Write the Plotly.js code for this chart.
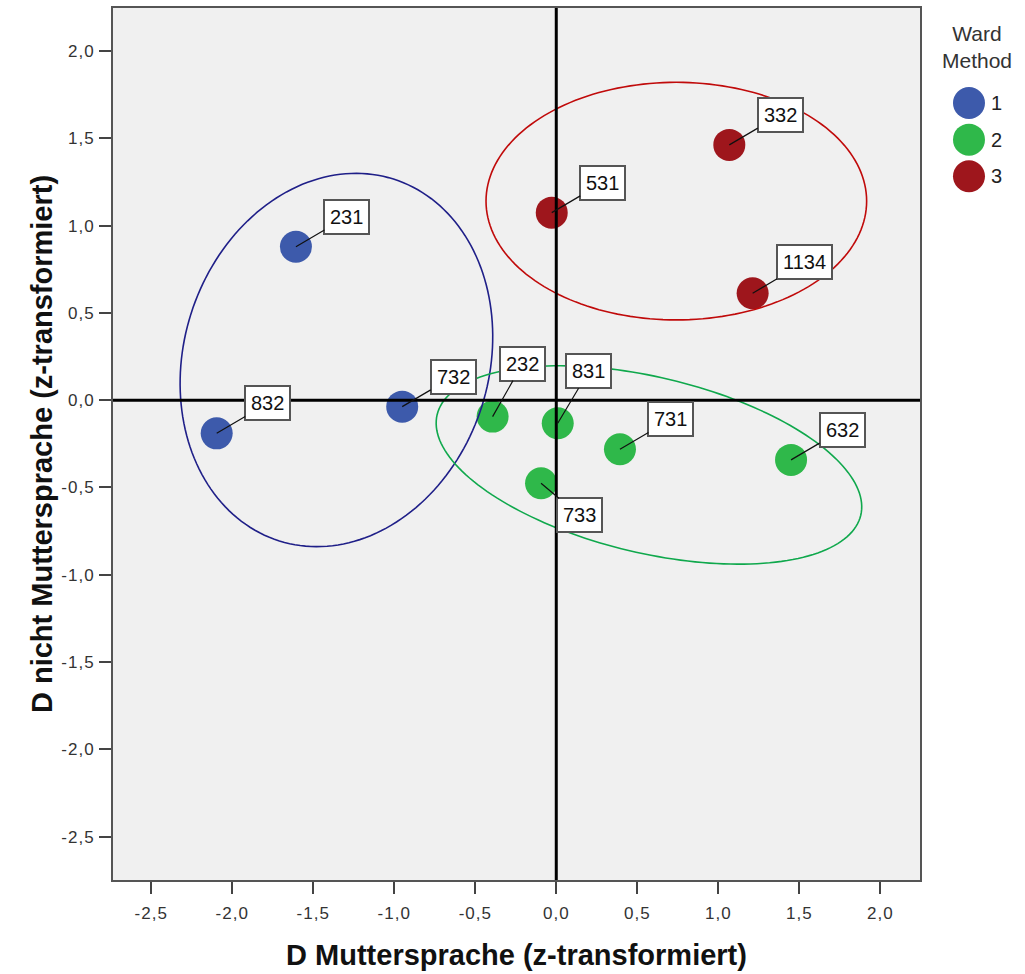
<!DOCTYPE html>
<html><head><meta charset="utf-8">
<script src="https://cdn.plot.ly/plotly-3.0.1.min.js"></script>
<style>html,body{margin:0;padding:0;background:#fff;} #chart{width:1025px;height:974px;}
.xtick text, .ytick text {letter-spacing: 1px;}</style>
</head><body><div id="chart"></div>
<script>
// ---- data ----
const clusterNames = ['1', '2', '3'];
const ids1 = ['231', '832', '732'];
const x1 = [-1.607, -2.096, -0.951];
const y1 = [0.879, -0.190, -0.037];
const ids2 = ['232', '831', '733', '731', '632'];
const x2 = [-0.393, 0.009, -0.094, 0.393, 1.449];
const y2 = [-0.094, -0.132, -0.476, -0.281, -0.342];
const ids3 = ['531', '332', '1134'];
const x3 = [-0.028, 1.068, 1.212];
const y3 = [1.074, 1.462, 0.612];
const tickVals = [-2.5, -2, -1.5, -1, -0.5, 0, 0.5, 1, 1.5, 2];
const tickText = ['-2,5', '-2,0', '-1,5', '-1,0', '-0,5', '0,0', '0,5', '1,0', '1,5', '2,0'];
const xTitle = 'D Muttersprache (z-transformiert)';
const yTitle = 'D nicht Muttersprache (z-transformiert)';
const legendTitle = 'Ward<br>Method';

// ---- style ----
const colors = ['#3d5aab', '#2fb84a', '#9e161c'];
const ellipseColors = ['#1f1f88', '#0fa84c', '#c00a0a'];
const FONT = 'Liberation Sans, Arial, sans-serif';
const W = 1025, H = 974;
const M = {l: 113, r: 105, t: 8, b: 94};
const plotW = W - M.l - M.r, plotH = H - M.t - M.b;
const xr = [-2.736, 2.245], yr = [-2.748, 2.246];
const defaultOffset = [51, -30];
const labelOffsets = {'232': [30, -53], '831': [31, -52], '733': [38, 32], '1134': [52, -31]};
// ellipse: [cx, cy (data), semi-axis a px, semi-axis b px, rotation deg (screen)]
const ellipses = [
  [-1.357, 0.230, 189.7, 152.6, -72.5],
  [0.572, -0.371, 217.7, 87.9, 13.35],
  [0.741, 1.140, 190.3, 118.8, 0]
];

function ellipsePath(e, n) {
  const [cx, cy, a, b, ang] = e;
  const xs = plotW / (xr[1] - xr[0]), ys = plotH / (yr[1] - yr[0]);
  const th = ang * Math.PI / 180;
  let p = '';
  for (let i = 0; i <= n; i++) {
    const t = 2 * Math.PI * i / n;
    const dx = a * Math.cos(t) * Math.cos(th) - b * Math.sin(t) * Math.sin(th);
    const dy = a * Math.cos(t) * Math.sin(th) + b * Math.sin(t) * Math.cos(th);
    p += (i ? 'L' : 'M') + (cx + dx / xs).toFixed(4) + ',' + (cy - dy / ys).toFixed(4);
  }
  return p + 'Z';
}

const groups = [[ids1, x1, y1], [ids2, x2, y2], [ids3, x3, y3]];
const traces = groups.map((g, i) => ({
  type: 'scatter', mode: 'markers', name: clusterNames[i],
  x: g[1], y: g[2], text: g[0],
  marker: {size: 32, color: colors[i], line: {width: 0}},
  hoverinfo: 'text+x+y', showlegend: false
}));

const annotations = [];
groups.forEach(g => {
  g[0].forEach((id, k) => {
    const off = labelOffsets[id] || defaultOffset;
    annotations.push({
      x: g[1][k], y: g[2][k], xref: 'x', yref: 'y', text: id,
      showarrow: true, arrowhead: 0, arrowwidth: 1.2, arrowcolor: '#111',
      ax: off[0], ay: off[1], standoff: 0,
      font: {family: FONT, size: 20, color: '#111'},
      bgcolor: '#ffffff', bordercolor: '#555', borderwidth: 2, borderpad: 5
    });
  });
});
// legend (custom, to keep large symbols)
annotations.push({
  xref: 'paper', yref: 'paper', x: 1.0706, y: 0.955, text: legendTitle,
  showarrow: false, xanchor: 'center', yanchor: 'middle',
  font: {family: FONT, size: 21, color: '#333'}
});
const legendY = [0.891, 0.849, 0.807];
const shapes = [];
clusterNames.forEach((n, i) => {
  shapes.push({type: 'circle', xref: 'paper', yref: 'paper', xsizemode: 'pixel', ysizemode: 'pixel',
    xanchor: 1.0607, yanchor: legendY[i], x0: -16, x1: 16, y0: -16, y1: 16,
    fillcolor: colors[i], line: {width: 0}});
  annotations.push({xref: 'paper', yref: 'paper', x: 1.085, y: legendY[i], text: n,
    showarrow: false, xanchor: 'left', yanchor: 'middle',
    font: {family: FONT, size: 20, color: '#222'}});
});
ellipses.forEach((e, i) => {
  shapes.push({type: 'path', xref: 'x', yref: 'y', path: ellipsePath(e, 180),
    line: {color: ellipseColors[i], width: 1.6}, layer: 'above'});
});
// reference lines at 0
shapes.push({type: 'line', xref: 'x', yref: 'paper', x0: 0, x1: 0, y0: 0, y1: 1,
  line: {color: '#000', width: 3}, layer: 'above'});
shapes.push({type: 'line', xref: 'paper', yref: 'y', x0: 0, x1: 1, y0: 0, y1: 0,
  line: {color: '#000', width: 3}, layer: 'above'});

const axisCommon = {
  showgrid: false, zeroline: false, showline: true, mirror: true,
  linecolor: '#555', linewidth: 2, ticks: 'outside', ticklen: 12, tickwidth: 2, tickcolor: '#444',
  tickmode: 'array', tickvals: tickVals, ticktext: tickText,
  tickfont: {family: FONT, size: 17, color: '#333'}, automargin: false
};

const layout = {
  width: W, height: H, margin: M,
  paper_bgcolor: '#ffffff', plot_bgcolor: '#f0f0f0',
  showlegend: false,
  xaxis: Object.assign({}, axisCommon, {range: xr, ticklabelstandoff: 5,
    title: {text: xTitle, font: {family: FONT, size: 29, weight: 'bold', color: '#111'}, standoff: 22}}),
  yaxis: Object.assign({}, axisCommon, {range: yr, ticklabelstandoff: 1,
    title: {text: yTitle, font: {family: FONT, size: 29, weight: 'bold', color: '#111'}, standoff: 0}}),
  shapes: shapes, annotations: annotations
};

Plotly.newPlot('chart', traces, layout, {displayModeBar: false, staticPlot: true});
</script>
</body></html>
